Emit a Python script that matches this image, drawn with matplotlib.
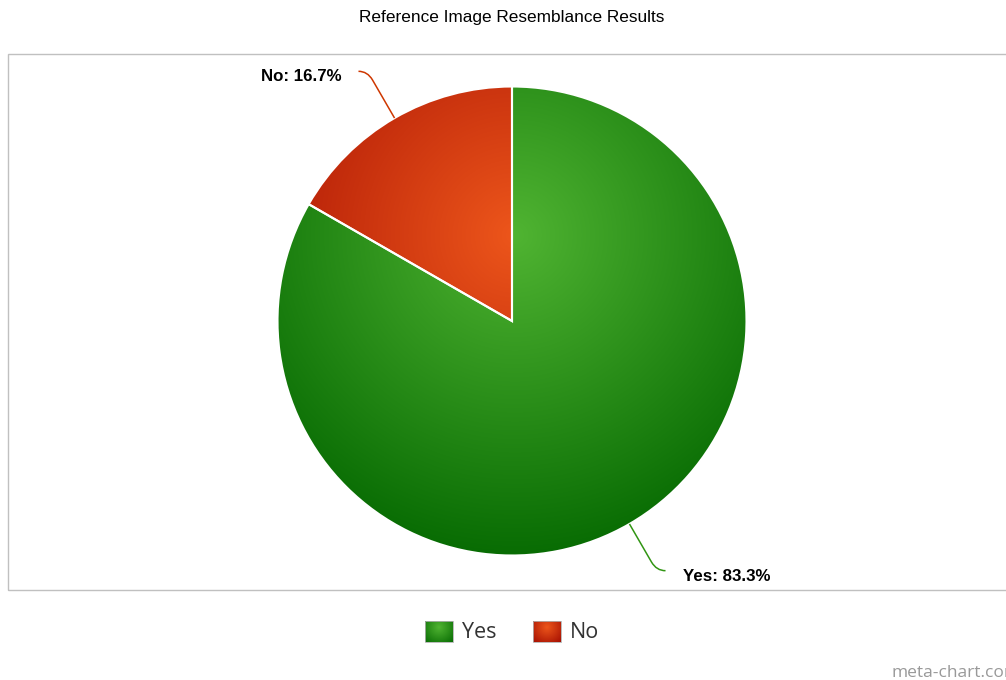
import numpy as np
import matplotlib
matplotlib.use('Agg')
import matplotlib.pyplot as plt
from matplotlib.patches import Rectangle
from matplotlib.path import Path
from matplotlib.patches import PathPatch
from matplotlib.colors import to_rgb

# chart data
categories = ['Yes', 'No']
shares = [83.3, 16.7]
base_colors = ['#50B432', '#ED561B']
title = 'Reference Image Resemblance Results'

W, H = 1006, 680


def Y(y):
    # pixel row (from top) -> data y (from bottom)
    return H - y


def darken(c, amount=0.3):
    r, g, b = to_rgb(c)
    return tuple(max(v - amount, 0.0) for v in (r, g, b))


def radial_image(color, cx, cy, radius, extent, n=400):
    x0, x1, y0, y1 = extent
    xs = np.linspace(x0, x1, n)
    ys = np.linspace(y0, y1, n)
    gx, gy = np.meshgrid(xs, ys)
    t = np.clip(np.hypot(gx - cx, gy - cy) / radius, 0, 1)[..., None]
    c0 = np.array(to_rgb(color))
    c1 = np.array(darken(color))
    return c0 + t * (c1 - c0)


fig = plt.figure(figsize=(W / 100, H / 100), dpi=100)
ax = fig.add_axes([0, 0, 1, 1])

center = (512, Y(321))
radius = 234.5

wedges, _ = ax.pie(shares, startangle=90, counterclock=False,
                   center=center, radius=radius,
                   wedgeprops=dict(facecolor='none', edgecolor='white',
                                   linewidth=1.5, zorder=3))

ax.set_xlim(0, W)
ax.set_ylim(0, H)
ax.set_aspect('equal')
ax.axis('off')

# shaded fill for each slice, clipped to the wedge outline
gcx, gcy, grad_r = 515, Y(235), 340
for w, col in zip(wedges, base_colors):
    img = radial_image(col, gcx, gcy, grad_r, (0, W, 0, H), n=600)
    im = ax.imshow(img, extent=(0, W, 0, H), origin='lower', zorder=1,
                   interpolation='bilinear')
    im.set_clip_path(w)

# connectors and labels
for w, cat, val, col in zip(wedges, categories, shares, base_colors):
    mid = np.deg2rad((w.theta1 + w.theta2) / 2)
    d = np.array([np.cos(mid), np.sin(mid)])
    edge = np.array(center) + radius * d
    p1 = edge + 44 * d
    corner = edge + 54 * d
    side = 1 if d[0] > 0 else -1
    end = corner + np.array([side * 9, 0])
    path = Path([edge, p1, corner, end],
                [Path.MOVETO, Path.LINETO, Path.CURVE3, Path.CURVE3])
    ax.add_patch(PathPatch(path, facecolor='none',
                           edgecolor=darken(col, 0.12),
                           linewidth=1.1, zorder=4))
    ax.text(end[0] + side * 17, end[1] - 10, '{}: {}%'.format(cat, val),
            ha='left' if side > 0 else 'right', va='baseline',
            fontsize=12.2, fontweight='bold', family='Liberation Sans',
            color='#000000', zorder=5)

# plot frame
ax.add_patch(Rectangle((8.5, Y(589.5)), 1000, 536, facecolor='none',
                       edgecolor='#c0c0c0', linewidth=1, zorder=0))

ax.text(512, Y(22), title, ha='center', va='baseline', fontsize=12.4,
        family='Liberation Sans', color='#000000')

# legend
legend_x = [425, 533]
for lx, cat, col in zip(legend_x, categories, base_colors):
    ext = (lx, lx + 28, Y(642), Y(621))
    img = radial_image(col, lx + 14, Y(627), 22, ext, n=60)
    ax.imshow(img, extent=ext, origin='lower', zorder=2,
              interpolation='bilinear')
    ax.add_patch(Rectangle((lx, Y(642)), 28, 21, facecolor='none',
                           edgecolor='#b0b0b0', linewidth=0.6, zorder=3))
    ax.text(lx + 37, Y(633), cat, ha='left', va='center', fontsize=15.5,
            family='Open Sans', color='#333333')

ax.text(892, Y(677), 'meta-chart.com', ha='left', va='baseline',
        fontsize=12.5, family='Open Sans', color='#999999')

ax.set_xlim(0, W)
ax.set_ylim(0, H)
fig.savefig('out.png', dpi=100)
